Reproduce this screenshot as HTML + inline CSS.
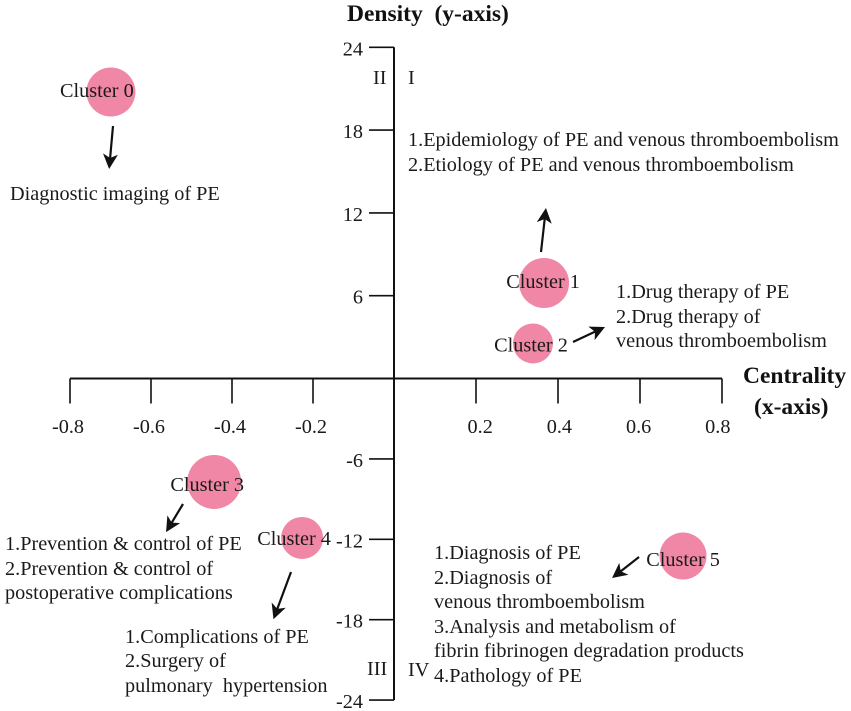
<!DOCTYPE html>
<html>
<head>
<meta charset="utf-8">
<style>
html,body{margin:0;padding:0;background:#fff;width:851px;height:711px;overflow:hidden}
svg{display:block}
text{font-family:"Liberation Serif",serif;fill:#1a1a1a;font-size:20.25px;white-space:pre}
.b{font-weight:bold;font-size:23.5px;fill:#111}
</style>
</head>
<body>
<svg id="chart" width="851" height="711" viewBox="0 0 851 711" xmlns="http://www.w3.org/2000/svg">
<defs>
<marker id="head" markerWidth="16" markerHeight="16" refX="12" refY="7.5" orient="auto" markerUnits="userSpaceOnUse">
<path d="M0,0 L15,7.5 L0,15 L4,7.5 Z" fill="#111"/>
</marker>
</defs>
<text class="b" x="347" y="21">Density  (y-axis)</text>
<text class="b" x="743" y="383">Centrality</text>
<text class="b" x="754" y="414">(x-axis)</text>

<text x="373" y="84">II</text>
<text x="408" y="84">I</text>
<text x="367" y="675">III</text>
<text x="408" y="676">IV</text>

<g>
<text x="10" y="200">Diagnostic imaging of PE</text>
</g>
<g>
<text x="408" y="146">1.Epidemiology of PE and venous thromboembolism</text>
<text x="408" y="171">2.Etiology of PE and venous thromboembolism</text>
</g>
<g>
<text x="616" y="298">1.Drug therapy of PE</text>
<text x="616" y="323">2.Drug therapy of</text>
<text x="616" y="347">venous thromboembolism</text>
</g>
<g>
<text x="5" y="550">1.Prevention &amp; control of PE</text>
<text x="5" y="575">2.Prevention &amp; control of</text>
<text x="5" y="599">postoperative complications</text>
</g>
<g>
<text x="125" y="643">1.Complications of PE</text>
<text x="125" y="667">2.Surgery of</text>
<text x="125" y="692">pulmonary  hypertension</text>
</g>
<g>
<text x="434" y="559">1.Diagnosis of PE</text>
<text x="434" y="584">2.Diagnosis of</text>
<text x="434" y="608">venous thromboembolism</text>
<text x="434" y="633">3.Analysis and metabolism of</text>
<text x="434" y="657">fibrin fibrinogen degradation products</text>
<text x="434" y="682">4.Pathology of PE</text>
</g>

<g stroke="#111" stroke-width="2.2" fill="none">
<line x1="113" y1="126" x2="109.4" y2="166" marker-end="url(#head)"/>
<line x1="541" y1="252" x2="545.6" y2="211" marker-end="url(#head)"/>
<line x1="573" y1="342" x2="602.3" y2="328.3" marker-end="url(#head)"/>
<line x1="183" y1="504" x2="167.6" y2="529.5" marker-end="url(#head)"/>
<line x1="291" y1="572" x2="274.5" y2="616.4" marker-end="url(#head)"/>
<line x1="639" y1="557" x2="614.4" y2="576.2" marker-end="url(#head)"/>
</g>
</svg>
<script>
var clusterNames = ['Cluster 0','Cluster 1','Cluster 2','Cluster 3','Cluster 4','Cluster 5'];
var centrality = [-0.699, 0.366, 0.339, -0.444, -0.227, 0.705];
var density = [20.76, 6.92, 2.54, -7.72, -11.9, -13.25];
var bubbleSize = [24.5, 25, 20, 27, 21, 23.5];
var xTickValues = [-0.8, -0.6, -0.4, -0.2, 0.2, 0.4, 0.6, 0.8];
var yTickValues = [24, 18, 12, 6, -6, -12, -18, -24];

var NS = 'http://www.w3.org/2000/svg';
var svg = document.getElementById('chart');
function xScale(v){ return 394 + v * (v < 0 ? 405 : 410); }
function yScale(v){ return 378.5 - v * (v > 0 ? 13.8 : 13.4); }
function xLabelPos(v){ return v < 0 ? xScale(v) - 2 : 401 + 396 * v; }
// label placement relative to each bubble: the labels sit off-centre in the figure
function labelDx(i){ return [-14, -1, -2, -7, -8, 0][i]; }
function labelDy(i){ return [5, 5, 8, 9, 7, 10][i]; }
function make(tag, attrs, parent){
  var el = document.createElementNS(NS, tag);
  for (var k in attrs) el.setAttribute(k, attrs[k]);
  (parent || svg).appendChild(el);
  return el;
}

var axisGroup = make('g', {stroke:'#111', fill:'none'});


var xAxis = make('line', {x1:xScale(-0.8), x2:xScale(0.8), y1:yScale(0), y2:yScale(0), 'stroke-width':2}, axisGroup);


var yAxis = make('line', {x1:xScale(0), x2:xScale(0), y1:yScale(24), y2:yScale(-24), 'stroke-width':2}, axisGroup);



xTickValues.forEach(function(v){
  var x = xScale(v);
  var t = make('line', {x1:x, x2:x, y1:yScale(0), y2:yScale(0)+25, 'stroke-width':1.6}, axisGroup);
  
  
  var l = make('text', {x:xLabelPos(v), y:433, 'text-anchor':'middle'});
  l.textContent = v.toFixed(1);
  
  
});
yTickValues.forEach(function(v){
  var y = yScale(v);
  var t = make('line', {x1:xScale(0)-25, x2:xScale(0), y1:y, y2:y, 'stroke-width':1.6}, axisGroup);
  
  
  var l = make('text', {x:xScale(0)-31, y:y+8, 'text-anchor':'end'});
  l.textContent = String(v);
  
  
});

clusterNames.forEach(function(name, i){
  var cx = xScale(centrality[i]);
  var cy = yScale(density[i]);
  var c = make('circle', {cx:cx, cy:cy, r:bubbleSize[i], fill:'#f087a6'});
  
  
  var l = make('text', {x:cx + labelDx(i), y:cy + labelDy(i), 'text-anchor':'middle'});
  l.textContent = name;
  
  
});
</script>
</body>
</html>
